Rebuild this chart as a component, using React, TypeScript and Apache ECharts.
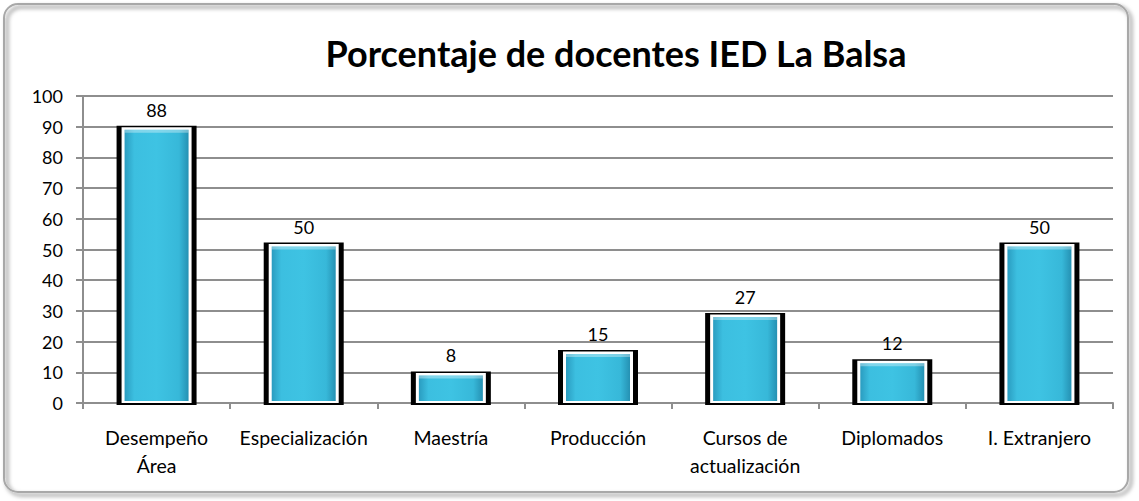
import React, { useEffect, useRef } from "react";
import * as echarts from "echarts";

const categories = ["Desempeño\nÁrea", "Especialización", "Maestría", "Producción", "Cursos de\nactualización", "Diplomados", "I. Extranjero"];
const values = [88, 50, 8, 15, 27, 12, 50];
const yTicks = { min: 0, max: 100, interval: 10 };
const titleText = "Porcentaje de docentes IED La Balsa";

const FONT = "Lato, 'Open Sans', sans-serif";

export default function App() {
  const ref = useRef<HTMLDivElement>(null);
  useEffect(() => {
    document.body.style.margin = "0";
    const chart = echarts.init(ref.current!, null, { renderer: "svg" });
    const grad = new echarts.graphic.LinearGradient(0, 0, 1, 0, [
      { offset: 0, color: "#2a9cc0" },
      { offset: 0.15, color: "#3cbfe0" },
      { offset: 0.5, color: "#3ec3e3" },
      { offset: 0.85, color: "#37b8d9" },
      { offset: 1, color: "#2591b3" },
    ]);
    chart.setOption({
      animation: false,
      backgroundColor: "#ffffff",
      textStyle: { fontFamily: FONT },
      graphic: [
        {
          type: "rect",
          shape: { x: 4, y: 4, width: 1124, height: 488, r: 14 },
          style: {
            fill: "none",
            stroke: "#a8a8a8",
            lineWidth: 2,
            shadowColor: "rgba(0,0,0,0.55)",
            shadowBlur: 4,
            shadowOffsetX: 3,
            shadowOffsetY: 3,
          },
          z: -10,
          silent: true,
        },
        {
          type: "text",
          x: 616,
          y: 53,
          style: {
            text: titleText,
            align: "center",
            verticalAlign: "middle",
            fontFamily: FONT,
            fontWeight: "bold",
            fontSize: 36,
            fill: "#000",
          },
          silent: true,
        },
      ],
      grid: { left: 83, right: 26, top: 96, bottom: 98 },
      xAxis: {
        type: "category",
        data: categories,
        axisLine: { lineStyle: { color: "#8e8e8e", width: 2 } },
        axisTick: { show: true, length: 6, lineStyle: { color: "#8e8e8e", width: 2 } },
        axisLabel: { color: "#000", fontSize: 19.5, fontFamily: FONT, margin: 20, lineHeight: 28, interval: 0 },
      },
      yAxis: {
        type: "value",
        min: yTicks.min,
        max: yTicks.max,
        interval: yTicks.interval,
        axisLine: { show: true, lineStyle: { color: "#8e8e8e", width: 2 } },
        axisTick: { show: true, length: 7, lineStyle: { color: "#8e8e8e", width: 2 } },
        axisLabel: { color: "#000", fontSize: 18, fontFamily: FONT, margin: 20 },
        splitLine: { lineStyle: { color: "#8e8e8e", width: 2 } },
      },
      series: [
        {
          type: "custom",
          data: values.map((v, i) => [i, v]),
          encode: { x: 0, y: 1 },
          renderItem: (params: any, api: any) => {
            const i = api.value(0);
            const v = api.value(1);
            const top = api.coord([i, v]);
            const base = api.coord([i, 0]);
            const cx = top[0];
            const ty = top[1];
            const by = base[1];
            return {
              type: "group",
              children: [
                {
                  type: "rect",
                  shape: { x: cx - 40, y: ty - 7, width: 80, height: by - ty + 9 },
                  style: { fill: "#000" },
                },
                {
                  type: "rect",
                  shape: { x: cx - 35, y: ty - 5.5, width: 70, height: by - ty + 5.5 },
                  style: { fill: "#ffffff" },
                },
                {
                  type: "rect",
                  shape: { x: cx - 32, y: ty - 3, width: 64, height: by - ty + 1 },
                  style: { fill: grad },
                },
                {
                  type: "rect",
                  shape: { x: cx - 32, y: ty - 3, width: 64, height: 3 },
                  style: { fill: "rgba(255,255,255,0.35)" },
                },
                {
                  type: "text",
                  style: {
                    text: String(v),
                    x: cx,
                    y: ty - 23,
                    align: "center",
                    verticalAlign: "middle",
                    fill: "#000",
                    fontSize: 18,
                    fontFamily: FONT,
                  },
                },
              ],
            };
          },
        },
      ],
    });
    return () => chart.dispose();
  }, []);
  return <div ref={ref} style={{ width: 1139, height: 501 }} />;
}
